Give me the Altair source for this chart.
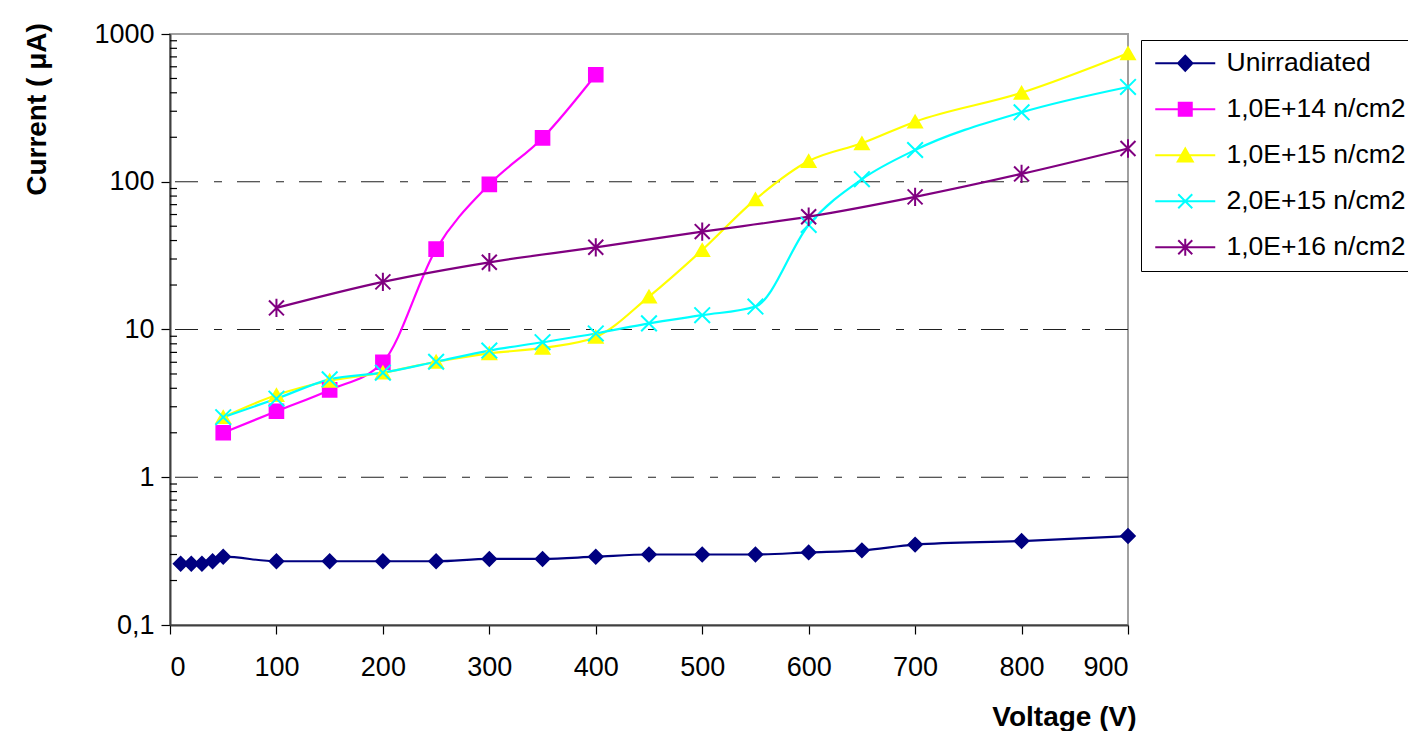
import altair as alt
import pandas as pd

# ---- data ----
series_names = ["Unirradiated", "1,0E+14 n/cm2", "1,0E+15 n/cm2", "2,0E+15 n/cm2", "1,0E+16 n/cm2"]
series_colors = ["#000080", "#FF00FF", "#FFFF00", "#00FFFF", "#800080"]

v_unirr = [10, 20, 30, 40, 50, 100, 150, 200, 250, 300, 350, 400, 450, 500, 550, 600, 650, 700, 800, 900]
i_unirr = [0.26, 0.26, 0.26, 0.27, 0.29, 0.27, 0.27, 0.27, 0.27, 0.28, 0.28, 0.29, 0.30, 0.30, 0.30, 0.31, 0.32, 0.35, 0.37, 0.40]

v_1e14 = [50, 100, 150, 200, 250, 300, 350, 400]
i_1e14 = [2.0, 2.8, 3.9, 6.0, 35, 96, 198, 530]

v_1e15 = [50, 100, 150, 200, 250, 300, 350, 400, 450, 500, 550, 600, 650, 700, 800, 900]
i_1e15 = [2.55, 3.6, 4.5, 5.1, 6.05, 6.9, 7.5, 8.9, 16.7, 34.5, 76, 138, 182, 255, 400, 740]

v_2e15 = [50, 100, 150, 200, 250, 300, 350, 400, 450, 500, 550, 600, 650, 700, 800, 900]
i_2e15 = [2.55, 3.4, 4.6, 5.1, 6.05, 7.2, 8.2, 9.4, 11, 12.5, 14.3, 51, 104, 164, 295, 438]

v_1e16 = [100, 200, 300, 400, 500, 600, 700, 800, 900]
i_1e16 = [14, 21, 28.5, 36, 46, 58, 79, 113, 168]

x_ticks = [0, 100, 200, 300, 400, 500, 600, 700, 800, 900]
y_major = [0.1, 1, 10, 100, 1000]
y_minor = [0.2, 0.3, 0.4, 0.5, 0.6, 0.7, 0.8, 0.9,
           2, 3, 4, 5, 6, 7, 8, 9,
           20, 30, 40, 50, 60, 70, 80, 90,
           200, 300, 400, 500, 600, 700, 800, 900]
grid_values = [1, 10, 100]

# ---- marker shapes ----
point_shapes = [
    "diamond",
    "square",
    "triangle-up",
    "M-1.15,-1.15L1.15,1.15M-1.15,1.15L1.15,-1.15",
    "M-1.1,-1.1L1.1,1.1M-1.1,1.1L1.1,-1.1M0,-1.35L0,1.35",
]
legend_shapes = [
    "M-3,0L3,0M0,-0.75L0.72,0L0,0.75L-0.72,0Z",
    "M-3,0L3,0M-0.65,-0.65L0.65,-0.65L0.65,0.65L-0.65,0.65Z",
    "M-3,0L3,0M0,-0.68L0.75,0.62L-0.75,0.62Z",
    "M-3,0L3,0M-0.7,-0.7L0.7,0.7M-0.7,0.7L0.7,-0.7",
    "M-3,0L3,0M-0.7,-0.7L0.7,0.7M-0.7,0.7L0.7,-0.7M0,-0.85L0,0.85",
]

rows = []
for name, vs, cs in zip(series_names,
                        [v_unirr, v_1e14, v_1e15, v_2e15, v_1e16],
                        [i_unirr, i_1e14, i_1e15, i_2e15, i_1e16]):
    for v, c in zip(vs, cs):
        rows.append({"series": name, "s2": name, "V": v, "I": c})
df = pd.DataFrame(rows)

FONT = "Liberation Sans"

x_enc = alt.X("V:Q",
              scale=alt.Scale(domain=[0, 900], nice=False, zero=False),
              axis=alt.Axis(values=x_ticks, title="Voltage (V)", grid=False,
                            tickSize=9, labelPadding=20, labelFontSize=27,
                            titleFontSize=28, titleFontWeight="bold",
                            titleX=966, titleY=100, titleAlign="right",
                            titleBaseline="alphabetic"))
y_enc = alt.Y("I:Q",
              scale=alt.Scale(type="log", domain=[0.1, 1000], nice=False),
              axis=alt.Axis(values=y_major, title="Current ( μA)", grid=False,
                            tickSize=9, labelPadding=7, labelFontSize=27,
                            labelExpr="datum.value < 0.5 ? '0,1' : format(datum.value, 'd')",
                            titleFontSize=28, titleFontWeight="bold",
                            titleX=-133, titleY=75, titleAngle=270,
                            titleAlign="center", titleBaseline="middle"))

stroke_s2 = alt.Stroke("s2:N", scale=alt.Scale(domain=series_names, range=series_colors), legend=None)
fill_s2 = alt.Fill("s2:N", scale=alt.Scale(domain=series_names, range=series_colors), legend=None)

grid_df = pd.DataFrame({"I": grid_values})
minor_df = pd.DataFrame({"I": y_minor})

grid = alt.Chart(grid_df).mark_rule(color="#202020", strokeWidth=1, strokeDash=[23, 15, 8, 16]).encode(
    y=alt.Y("I:Q")
)
minor = alt.Chart(minor_df).mark_rule(color="#000000", strokeWidth=1.2).encode(
    y=alt.Y("I:Q"), x=alt.value(0), x2=alt.value(7)
)

lines = alt.Chart(df).mark_line(interpolate="monotone", strokeWidth=2.2).encode(
    x=x_enc, y=y_enc, stroke=stroke_s2, detail="s2:N", order="V:Q"
)
points = alt.Chart(df).mark_point(filled=True, size=185, strokeWidth=2, opacity=1).encode(
    x="V:Q", y="I:Q", stroke=stroke_s2, fill=fill_s2,
    shape=alt.Shape("s2:N", scale=alt.Scale(domain=series_names, range=point_shapes), legend=None)
)

legend = alt.Legend(title=None, orient="none", legendX=971, legendY=6,
                    symbolSize=400, symbolStrokeWidth=2, symbolOffset=21,
                    labelOffset=28, labelFontSize=26.5, labelFont=FONT, labelColor="#000",
                    padding=10, rowPadding=19, strokeColor="#000", fillColor="#fff",
                    labelLimit=400)
legend_layer = alt.Chart(df).transform_filter("datum.V < 0").mark_point(filled=True, opacity=1).encode(
    x="V:Q", y="I:Q",
    fill=alt.Fill("series:N", scale=alt.Scale(domain=series_names, range=series_colors), legend=legend),
    stroke=alt.Stroke("series:N", scale=alt.Scale(domain=series_names, range=series_colors), legend=legend),
    shape=alt.Shape("series:N", scale=alt.Scale(domain=series_names, range=legend_shapes), legend=legend),
)

chart = alt.layer(grid, minor, lines, points, legend_layer).resolve_scale(
    fill="independent", stroke="independent", shape="independent"
).properties(
    width=958, height=591,
    autosize=alt.AutoSizeParams(type="none"),
    padding={"left": 162, "top": 26, "right": 280, "bottom": 106},
).configure_view(
    stroke="#a0a0a0", strokeWidth=2
).configure_axis(
    labelFont=FONT, titleFont=FONT, labelColor="#000", titleColor="#000",
    domainColor="#404040", domainWidth=2, tickColor="#000", tickWidth=1.2,
)

chart.save("out.html", embed_options={"renderer": "svg", "actions": False})
